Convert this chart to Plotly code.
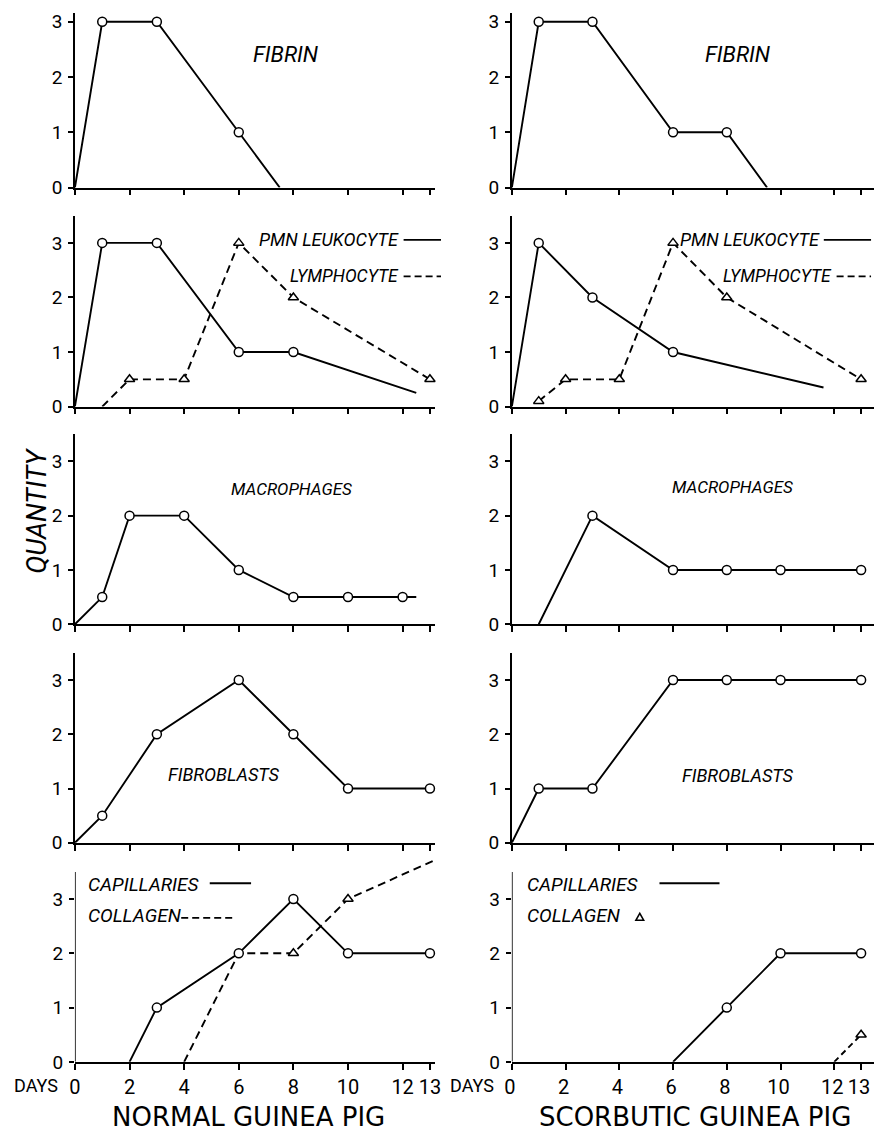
import plotly.graph_objects as go

W, H = 880, 1139

DAY_TICKS = [0, 2, 4, 6, 8, 10, 12, 13]
QTY_TICKS = [0, 1, 2, 3]

# ---- Normal guinea pig ----
N_FIBRIN_DAYS = [0, 1, 3, 6, 7.5]
N_FIBRIN = [0, 3, 3, 1, 0]
N_PMN_DAYS = [0, 1, 3, 6, 8, 12.5]
N_PMN = [0, 3, 3, 1, 1, 0.25]
N_LYMPH_DAYS = [1, 2, 4, 6, 8, 13]
N_LYMPH = [0, 0.5, 0.5, 3, 2, 0.5]
N_MACRO_DAYS = [0, 1, 2, 4, 6, 8, 10, 12, 12.5]
N_MACRO = [0, 0.5, 2, 2, 1, 0.5, 0.5, 0.5, 0.5]
N_FIBRO_DAYS = [0, 1, 3, 6, 8, 10, 13]
N_FIBRO = [0, 0.5, 2, 3, 2, 1, 1]
N_CAPIL_DAYS = [2, 3, 6, 8, 10, 13]
N_CAPIL = [0, 1, 2, 3, 2, 2]
N_COLL_DAYS = [4, 6, 8, 10, 13.1]
N_COLL = [0, 2, 2, 3, 3.7]

# ---- Scorbutic guinea pig ----
S_FIBRIN_DAYS = [0, 1, 3, 6, 8, 9.5]
S_FIBRIN = [0, 3, 3, 1, 1, 0]
S_PMN_DAYS = [0, 1, 3, 6, 11.6]
S_PMN = [0, 3, 2, 1, 0.35]
S_LYMPH_DAYS = [1, 2, 4, 6, 8, 13]
S_LYMPH = [0.1, 0.5, 0.5, 3, 2, 0.5]
S_MACRO_DAYS = [1, 3, 6, 8, 10, 13]
S_MACRO = [0, 2, 1, 1, 1, 1]
S_FIBRO_DAYS = [0, 1, 3, 6, 8, 10, 13]
S_FIBRO = [0, 1, 1, 3, 3, 3, 3]
S_CAPIL_DAYS = [6, 8, 10, 13]
S_CAPIL = [0, 1, 2, 2]
S_COLL_DAYS = [12, 13]
S_COLL = [0, 0.5]

NARROW = "Roboto, Liberation Sans, sans-serif"
WIDE = "DejaVu Sans, Verdana, sans-serif"


def pp(x, y):
    return x / W, 1 - y / H


# panel geometry (pixels)
ROW_BOTTOM = [187, 409, 629.5, 851, 1073]
ROW_UNIT = [56, 55.3, 55, 55, 55]
ROW_TOP = [3.15, 3.5, 3.5, 3.5, 3.75]
COL_X0 = [68, 512]
COL_DAY = [27.75, 27.3]
COL_XMAX = [13.2, 13.5]

fig = go.Figure()
layout = dict(
    width=W, height=H, margin=dict(l=0, r=0, t=0, b=0),
    paper_bgcolor="white", plot_bgcolor="white", showlegend=False,
)

for r in range(5):
    for c in range(2):
        k = r * 2 + c + 1
        sx = "" if k == 1 else str(k)
        x0 = COL_X0[c]
        x1 = x0 + COL_XMAX[c] * COL_DAY[c]
        xmax = COL_XMAX[c]
        if x1 > W:
            xmax = (W - x0) / COL_DAY[c]
            x1 = W
        yb = ROW_BOTTOM[r]
        yt = yb - ROW_TOP[r] * ROW_UNIT[r]
        layout["xaxis" + sx] = dict(
            domain=[x0 / W, x1 / W], range=[0, xmax],
            anchor="y" + sx, showline=True, linecolor="black", linewidth=1.6,
            ticks="outside", ticklen=6, tickwidth=1.5, tickcolor="black",
            tickvals=DAY_TICKS, showticklabels=(r == 4), showgrid=False,
            zeroline=False, tickfont=dict(family=NARROW, size=20, color="black"),
            fixedrange=True,
        )
        if r == 4 and c == 1:
            layout["xaxis" + sx]["ticklabelshift"] = -2
        layout["yaxis" + sx] = dict(
            domain=[1 - yb / H, 1 - yt / H], range=[0, ROW_TOP[r]],
            anchor="x" + sx, showline=(r != 4), linecolor="black", linewidth=1.6,
            ticks="outside", ticklen=5, tickwidth=1.5, tickcolor="black",
            tickvals=QTY_TICKS, showgrid=False, zeroline=False,
            tickfont=dict(family=NARROW, size=19, color="black"),
            ticklabelstandoff=2, fixedrange=True,
        )

series = [
    # panel, days, values, dash, symbol, marked slice
    (1, N_FIBRIN_DAYS, N_FIBRIN, "solid", "circle", slice(1, -1)),
    (2, S_FIBRIN_DAYS, S_FIBRIN, "solid", "circle", slice(1, -1)),
    (3, N_PMN_DAYS, N_PMN, "solid", "circle", slice(1, -1)),
    (3, N_LYMPH_DAYS, N_LYMPH, "8px,5px", "triangle-up", slice(1, None)),
    (4, S_PMN_DAYS, S_PMN, "solid", "circle", slice(1, -1)),
    (4, S_LYMPH_DAYS, S_LYMPH, "8px,5px", "triangle-up", slice(0, None)),
    (5, N_MACRO_DAYS, N_MACRO, "solid", "circle", slice(1, -1)),
    (6, S_MACRO_DAYS, S_MACRO, "solid", "circle", slice(1, None)),
    (7, N_FIBRO_DAYS, N_FIBRO, "solid", "circle", slice(1, None)),
    (8, S_FIBRO_DAYS, S_FIBRO, "solid", "circle", slice(1, None)),
    (9, N_COLL_DAYS, N_COLL, "8px,5px", "triangle-up", slice(2, -1)),
    (9, N_CAPIL_DAYS, N_CAPIL, "solid", "circle", slice(1, None)),
    (10, S_COLL_DAYS, S_COLL, "6px,4px", "triangle-up", slice(1, None)),
    (10, S_CAPIL_DAYS, S_CAPIL, "solid", "circle", slice(1, None)),
]

for k, xs, ys, dash, sym, sl in series:
    sx = "" if k == 1 else str(k)
    fig.add_trace(go.Scatter(
        x=xs, y=ys, mode="lines", xaxis="x" + sx, yaxis="y" + sx,
        line=dict(color="black", width=1.9, dash=dash), hoverinfo="skip",
    ))
    fig.add_trace(go.Scatter(
        x=xs[sl], y=ys[sl], mode="markers", xaxis="x" + sx, yaxis="y" + sx,
        marker=dict(symbol=sym, size=9, color="white",
                    line=dict(color="black", width=1.5)),
        cliponaxis=False, hoverinfo="skip",
    ))

annotations = []
shapes = []


def label(text, x, y, size=20, xanchor="center", italic=True, family=NARROW, angle=0):
    ax, ay = pp(x, y)
    annotations.append(dict(
        text=text, x=ax, y=ay, xref="paper", yref="paper", showarrow=False,
        xanchor=xanchor, yanchor="middle", textangle=angle, borderpad=0,
        font=dict(family=family, size=size, color="black",
                  style="italic" if italic else "normal"),
    ))


def key_line(xa, xb, y, dash="solid"):
    a = pp(xa, y)
    b = pp(xb, y)
    shapes.append(dict(type="line", xref="paper", yref="paper",
                       x0=a[0], y0=a[1], x1=b[0], y1=b[1],
                       line=dict(color="black", width=1.8, dash=dash)))


label("FIBRIN", 283, 52, size=22)
label("FIBRIN", 742, 52, size=22)
label("PMN LEUKOCYTE", 398, 240, xanchor="right", size=18)
label("LYMPHOCYTE", 398, 277, xanchor="right", size=17.5)
key_line(402, 440, 240)
key_line(402, 440, 277, "7px,4px")
label("PMN LEUKOCYTE", 826, 240, xanchor="right", size=18)
label("LYMPHOCYTE", 838, 277, xanchor="right", size=17.5)
key_line(829, 877, 240)
key_line(842, 877, 277, "7px,4px")
label("MACROPHAGES", 288, 492, size=17)
label("MACROPHAGES", 736, 490, size=17)
label("FIBROBLASTS", 219, 782, size=18)
label("FIBROBLASTS", 742, 783, size=18)
label("CAPILLARIES", 80, 893, xanchor="left", size=19)
label("COLLAGEN", 80, 925, xanchor="left", size=19)
key_line(205, 247, 892)
key_line(176, 228, 927, "7px,4px")
label("CAPILLARIES", 526, 893, xanchor="left", size=19)
label("COLLAGEN", 526, 925, xanchor="left", size=19)
key_line(662, 723, 892)
# triangle key for collagen (scorbutic)
tx, ty = 642, 926
p1, p2, p3 = pp(tx - 4, ty + 3.5), pp(tx + 4, ty + 3.5), pp(tx, ty - 3.5)
shapes.append(dict(type="path", xref="paper", yref="paper",
                   path=f"M {p1[0]} {p1[1]} L {p2[0]} {p2[1]} L {p3[0]} {p3[1]} Z",
                   line=dict(color="black", width=1.5), fillcolor="white"))

label("QUANTITY", 30, 515, size=27, angle=-90)
label("DAYS", 28, 1097, size=18, italic=False)
label("DAYS", 472, 1097, size=18, italic=False)
label("NORMAL GUINEA PIG", 244, 1129, size=26, italic=False, family=WIDE)
label("SCORBUTIC GUINEA PIG", 698, 1129, size=26, italic=False, family=WIDE)

# y-axis lines for the bottom row (drawn to 3.5 only)
for k in (9, 10):
    shapes.append(dict(type="line", xref=f"x{k}", yref=f"y{k}", x0=0, x1=0, y0=0, y1=3.5,
                       line=dict(color="black", width=1.6)))

layout["annotations"] = annotations
layout["shapes"] = shapes
fig.update_layout(**layout)
fig.write_html("out.html", config={"displayModeBar": False},
               post_script="document.body.style.margin='0px';")
